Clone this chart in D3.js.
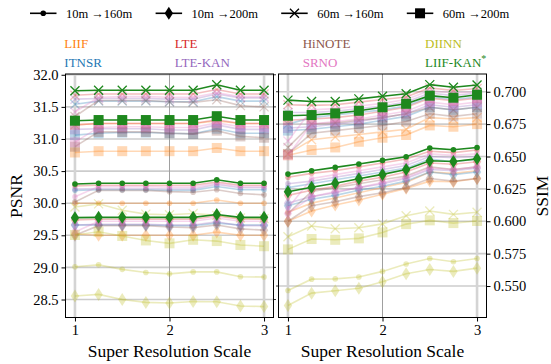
<!DOCTYPE html>
<html>
<head>
<meta charset="utf-8">
<script src="https://cdn.jsdelivr.net/npm/d3@7"></script>
<style>
  body { margin: 0; background: #fff; }
  svg { font-family: "Liberation Serif", "Times New Roman", serif; }
</style>
</head>
<body>
<div id="chart"></div>
<script>
// super resolution scales (x axis)
var scales = [1, 1.25, 1.5, 1.75, 2, 2.25, 2.5, 2.75, 3];

// configurations: 10m->160m, 10m->200m, 60m->160m, 60m->200m
var configLabels = ["10m \u2192160m", "10m \u2192200m", "60m \u2192160m", "60m \u2192200m"];
var configMarkers = ["dot", "diamond", "x", "square"];

var methodNames = ["LIIF", "ITNSR", "LTE", "LTE-KAN", "HiNOTE", "SRNO", "DIINN", "LIIF-KAN"];
var methodColors = ["#ff7f0e", "#1f77b4", "#d62728", "#9467bd", "#8c564b", "#e377c2", "#bcbd22", "#1e881e"];

// PSNR, one row per configuration
var liifPsnr = [
  [30.00, 30.00, 30.00, 30.00, 30.00, 30.00, 30.05, 30.00, 30.00],
  [29.52, 29.50, 29.50, 29.50, 29.50, 29.50, 29.55, 29.50, 29.50],
  [31.22, 31.24, 31.24, 31.24, 31.24, 31.24, 31.28, 31.24, 31.24],
  [30.79, 30.81, 30.81, 30.81, 30.81, 30.81, 30.86, 30.81, 30.81]
];
var itnsrPsnr = [
  [30.20, 30.21, 30.21, 30.21, 30.20, 30.20, 30.26, 30.21, 30.21],
  [29.66, 29.66, 29.66, 29.66, 29.65, 29.65, 29.69, 29.66, 29.66],
  [31.54, 31.59, 31.59, 31.59, 31.58, 31.58, 31.66, 31.59, 31.59],
  [31.06, 31.09, 31.10, 31.10, 31.09, 31.08, 31.16, 31.09, 31.09]
];
var ltePsnr = [
  [30.27, 30.28, 30.28, 30.28, 30.28, 30.28, 30.33, 30.28, 30.28],
  [29.74, 29.75, 29.75, 29.75, 29.75, 29.75, 29.80, 29.75, 29.75],
  [31.68, 31.70, 31.70, 31.70, 31.70, 31.70, 31.77, 31.70, 31.70],
  [31.22, 31.24, 31.24, 31.24, 31.24, 31.24, 31.30, 31.24, 31.24]
];
var lteKanPsnr = [
  [30.22, 30.23, 30.23, 30.23, 30.22, 30.22, 30.29, 30.24, 30.24],
  [29.66, 29.67, 29.67, 29.67, 29.66, 29.66, 29.71, 29.65, 29.65],
  [31.62, 31.63, 31.63, 31.63, 31.62, 31.62, 31.70, 31.64, 31.64],
  [31.15, 31.16, 31.16, 31.16, 31.14, 31.14, 31.22, 31.15, 31.15]
];
var hinotePsnr = [
  [30.02, 30.20, 30.20, 30.20, 30.18, 30.17, 30.21, 30.15, 30.13],
  [29.50, 29.65, 29.65, 29.65, 29.63, 29.62, 29.66, 29.60, 29.58],
  [31.35, 31.60, 31.60, 31.60, 31.58, 31.57, 31.61, 31.52, 31.50],
  [30.88, 31.11, 31.11, 31.11, 31.09, 31.08, 31.13, 31.04, 31.02]
];
var srnoPsnr = [
  [30.10, 30.26, 30.26, 30.26, 30.25, 30.25, 30.31, 30.26, 30.26],
  [29.55, 29.72, 29.72, 29.72, 29.72, 29.72, 29.77, 29.72, 29.72],
  [31.42, 31.65, 31.66, 31.66, 31.65, 31.65, 31.72, 31.66, 31.66],
  [30.95, 31.18, 31.19, 31.19, 31.18, 31.18, 31.25, 31.19, 31.19]
];
var diinnPsnr = [
  [29.01, 29.04, 28.97, 28.92, 28.90, 28.93, 28.93, 28.855, 28.85],
  [28.555, 28.58, 28.50, 28.455, 28.445, 28.47, 28.465, 28.40, 28.39],
  [29.94, 29.99, 29.89, 29.83, 29.82, 29.84, 29.81, 29.77, 29.76],
  [29.505, 29.556, 29.49, 29.42, 29.375, 29.43, 29.41, 29.35, 29.33]
];
var liifKanPsnr = [
  [30.30, 30.31, 30.31, 30.31, 30.31, 30.31, 30.365, 30.31, 30.31],
  [29.775, 29.78, 29.78, 29.78, 29.78, 29.78, 29.825, 29.78, 29.78],
  [31.75, 31.76, 31.76, 31.76, 31.76, 31.76, 31.845, 31.76, 31.76],
  [31.285, 31.295, 31.295, 31.295, 31.295, 31.295, 31.355, 31.295, 31.295]
];

// SSIM, one row per configuration
var liifSsim = [
  [0.607, 0.614, 0.618, 0.622, 0.626, 0.630, 0.638, 0.637, 0.639],
  [0.600, 0.608, 0.6125, 0.6164, 0.6208, 0.6254, 0.631, 0.6305, 0.633],
  [0.652, 0.663, 0.665, 0.667, 0.669, 0.671, 0.680, 0.679, 0.680],
  [0.651, 0.655, 0.657, 0.6614, 0.6645, 0.6666, 0.674, 0.673, 0.675]
];
var itnsrSsim = [
  [0.626, 0.629, 0.632, 0.635, 0.638, 0.641, 0.648, 0.646, 0.648],
  [0.612, 0.617, 0.620, 0.624, 0.627, 0.631, 0.638, 0.636, 0.638],
  [0.675, 0.680, 0.682, 0.684, 0.686, 0.689, 0.696, 0.694, 0.696],
  [0.670, 0.671, 0.673, 0.675, 0.678, 0.681, 0.688, 0.686, 0.688]
];
var lteSsim = [
  [0.634, 0.637, 0.639, 0.642, 0.645, 0.648, 0.654, 0.653, 0.655],
  [0.620, 0.624, 0.627, 0.631, 0.634, 0.638, 0.645, 0.644, 0.646],
  [0.690, 0.6895, 0.690, 0.692, 0.694, 0.696, 0.703, 0.701, 0.7025],
  [0.678, 0.679, 0.680, 0.682, 0.685, 0.688, 0.695, 0.693, 0.695]
];
var lteKanSsim = [
  [0.629, 0.631, 0.634, 0.637, 0.640, 0.643, 0.650, 0.649, 0.650],
  [0.614, 0.619, 0.622, 0.626, 0.629, 0.633, 0.640, 0.639, 0.641],
  [0.684, 0.684, 0.685, 0.687, 0.689, 0.692, 0.699, 0.697, 0.699],
  [0.672, 0.673, 0.675, 0.677, 0.680, 0.683, 0.690, 0.688, 0.690]
];
var hinoteSsim = [
  [0.606, 0.623, 0.626, 0.629, 0.632, 0.635, 0.642, 0.640, 0.642],
  [0.600, 0.612, 0.615, 0.619, 0.622, 0.626, 0.633, 0.631, 0.633],
  [0.657, 0.675, 0.676, 0.678, 0.680, 0.683, 0.688, 0.686, 0.688],
  [0.652, 0.668, 0.670, 0.672, 0.674, 0.677, 0.683, 0.681, 0.683]
];
var srnoSsim = [
  [0.610, 0.633, 0.636, 0.639, 0.642, 0.645, 0.652, 0.651, 0.652],
  [0.606, 0.619, 0.623, 0.626, 0.630, 0.634, 0.641, 0.640, 0.642],
  [0.662, 0.686, 0.687, 0.689, 0.691, 0.694, 0.701, 0.699, 0.700],
  [0.651, 0.675, 0.677, 0.679, 0.682, 0.685, 0.692, 0.690, 0.692]
];
var diinnSsim = [
  [0.5465, 0.5553, 0.5555, 0.557, 0.5613, 0.567, 0.5713, 0.5688, 0.5713],
  [0.535, 0.5445, 0.5463, 0.5483, 0.5533, 0.5595, 0.5628, 0.5613, 0.5638],
  [0.588, 0.5963, 0.5942, 0.595, 0.598, 0.6043, 0.6079, 0.6053, 0.607],
  [0.5783, 0.5863, 0.5857, 0.5868, 0.5914, 0.5978, 0.6007, 0.5986, 0.6002]
];
var liifKanSsim = [
  [0.6364, 0.639, 0.6416, 0.6442, 0.647, 0.6498, 0.6565, 0.6552, 0.657],
  [0.6228, 0.6262, 0.6293, 0.6328, 0.6362, 0.640, 0.6467, 0.6462, 0.6482],
  [0.6935, 0.6925, 0.6925, 0.6945, 0.6965, 0.6985, 0.7055, 0.7035, 0.7052],
  [0.6815, 0.682, 0.6833, 0.6853, 0.688, 0.6907, 0.697, 0.6954, 0.6977]
];

var psnrTicks = [28.5, 29.0, 29.5, 30.0, 30.5, 31.0, 31.5, 32.0];
var ssimTicks = [0.550, 0.575, 0.600, 0.625, 0.650, 0.675, 0.700];
var xTicks = [1, 2, 3];

var psnrData = [liifPsnr, itnsrPsnr, ltePsnr, lteKanPsnr, hinotePsnr, srnoPsnr, diinnPsnr, liifKanPsnr];
var ssimData = [liifSsim, itnsrSsim, lteSsim, lteKanSsim, hinoteSsim, srnoSsim, diinnSsim, liifKanSsim];

var width = 551, height = 364;
var svg = d3.select("#chart").append("svg").attr("width", width).attr("height", height);

var top_ = 74, bottom = 317.5;

function drawMarker(g, type, x, y, color, opacity) {
  if (type === "dot") {
    g.append("circle").attr("cx", x).attr("cy", y).attr("r", 2.8)
      .attr("fill", color).attr("opacity", opacity);
  } else if (type === "diamond") {
    g.append("path").attr("d", "M" + x + "," + (y - 6.5) + "L" + (x + 4.2) + "," + y + "L" + x + "," + (y + 6.5) + "L" + (x - 4.2) + "," + y + "Z")
      .attr("fill", color).attr("opacity", opacity);
  } else if (type === "x") {
    var s = 4.5;
    g.append("path").attr("d", "M" + (x - s) + "," + (y - s) + "L" + (x + s) + "," + (y + s) + "M" + (x - s) + "," + (y + s) + "L" + (x + s) + "," + (y - s))
      .attr("stroke", color).attr("stroke-width", 1.3).attr("fill", "none").attr("opacity", opacity);
  } else {
    g.append("rect").attr("x", x - 5).attr("y", y - 5).attr("width", 10).attr("height", 10)
      .attr("fill", color).attr("opacity", opacity);
  }
}

function drawPanel(left, right, yDomain, ticks, fmt, data, side, label) {
  var xScale = d3.scaleLinear().domain([0.9, 3.1]).range([left, right]);
  var yScale = d3.scaleLinear().domain(yDomain).range([bottom, top_]);
  var g = svg.append("g");

  // grid
  g.selectAll(".hg").data(ticks).enter().append("line")
    .attr("x1", left).attr("x2", right)
    .attr("y1", function(d) { return yScale(d); }).attr("y2", function(d) { return yScale(d); })
    .attr("stroke", "#cccccc").attr("stroke-width", 1.6);
  g.selectAll(".vg").data(xTicks).enter().append("line")
    .attr("x1", function(d) { return xScale(d); }).attr("x2", function(d) { return xScale(d); })
    .attr("y1", top_).attr("y2", bottom)
    .attr("stroke", function(d) { return d === 2 ? "#a0a0a0" : "#d4d4d4"; })
    .attr("stroke-width", function(d) { return d === 2 ? 1 : 2.6; });

  var line = d3.line().x(function(d, i) { return xScale(scales[i]); }).y(function(d) { return yScale(d); });

  data.forEach(function(method, m) {
    var color = methodColors[m];
    var op = m === data.length - 1 ? 1 : 0.3;
    method.forEach(function(series, c) {
      g.append("path").datum(series).attr("d", line)
        .attr("fill", "none").attr("stroke", color).attr("stroke-width", 1.6).attr("opacity", op);
      series.forEach(function(v, i) {
        drawMarker(g, configMarkers[c], xScale(scales[i]), yScale(v), color, op);
      });
    });
  });

  // spines
  g.append("rect").attr("x", left).attr("y", top_).attr("width", right - left).attr("height", bottom - top_)
    .attr("fill", "none").attr("stroke", "#000").attr("stroke-width", 1);

  // x axis
  var xAxis = d3.axisBottom(xScale).tickValues(xTicks).tickSize(4).tickPadding(3).tickFormat(d3.format("d"));
  var xg = g.append("g").attr("transform", "translate(0," + bottom + ")").call(xAxis);
  xg.select(".domain").remove();
  xg.selectAll("text").attr("font-size", 14.5).attr("font-family", "Liberation Serif").attr("fill", "#000");

  // y axis on labelled side, tiny ticks on the other
  var yAxis = side === "left" ? d3.axisLeft(yScale) : d3.axisRight(yScale);
  yAxis.tickValues(ticks).tickSize(4).tickPadding(3).tickFormat(d3.format(fmt));
  var yg = g.append("g").attr("transform", "translate(" + (side === "left" ? left : right) + ",0)").call(yAxis);
  yg.select(".domain").remove();
  yg.selectAll("text").attr("font-size", 14.5).attr("font-family", "Liberation Serif").attr("fill", "#000");

  var otherX = side === "left" ? right : left;
  var dir = side === "left" ? 1 : -1;
  g.selectAll(".mt").data(ticks).enter().append("line")
    .attr("x1", otherX).attr("x2", otherX + dir * 2.5)
    .attr("y1", function(d) { return yScale(d); }).attr("y2", function(d) { return yScale(d); })
    .attr("stroke", "#000").attr("stroke-width", 0.8);

  // axis labels
  g.append("text").attr("x", (left + right) / 2).attr("y", 357)
    .attr("text-anchor", "middle").attr("font-size", 17.5).text("Super Resolution Scale");
  var lx = side === "left" ? 16 : 542;
  g.append("text").attr("transform", "translate(" + lx + "," + 196 + ") rotate(-90)")
    .attr("text-anchor", "middle").attr("dominant-baseline", "central").attr("font-size", 17.5).text(label);
}

drawPanel(65.5, 273.5, [28.22, 32.012], psnrTicks, ".1f", psnrData, "left", "PSNR");
drawPanel(278.5, 486.5, [0.5257, 0.7137], ssimTicks, ".3f", ssimData, "right", "SSIM");

// marker legend
var markerLegend = svg.append("g");
configLabels.forEach(function(lab, i) {
  var x0 = 30 + i * 125.6;
  markerLegend.append("line").attr("x1", x0).attr("x2", x0 + 26.5).attr("y1", 13.3).attr("y2", 13.3)
    .attr("stroke", "#000").attr("stroke-width", 1.6);
  drawMarker(markerLegend, configMarkers[i], x0 + 13.25, 13.3, "#000", 1);
  markerLegend.append("text").attr("x", x0 + 36).attr("y", 17.6).attr("font-size", 12.5).text(lab);
});

// method legend (column-major, 4 columns)
var colX = [64.3, 174.7, 302.7, 425];
var rowY = [48, 66.8];
var methodLegend = svg.append("g");
methodNames.forEach(function(name, i) {
  var col = Math.floor(i / 2), row = i % 2;
  var t = methodLegend.append("text").attr("x", colX[col]).attr("y", rowY[row])
    .attr("font-size", 13).attr("fill", methodColors[i]).text(name);
  if (i === methodNames.length - 1) {
    t.append("tspan").attr("dy", -5).attr("font-size", 10).text("*");
  }
});
</script>
</body>
</html>
